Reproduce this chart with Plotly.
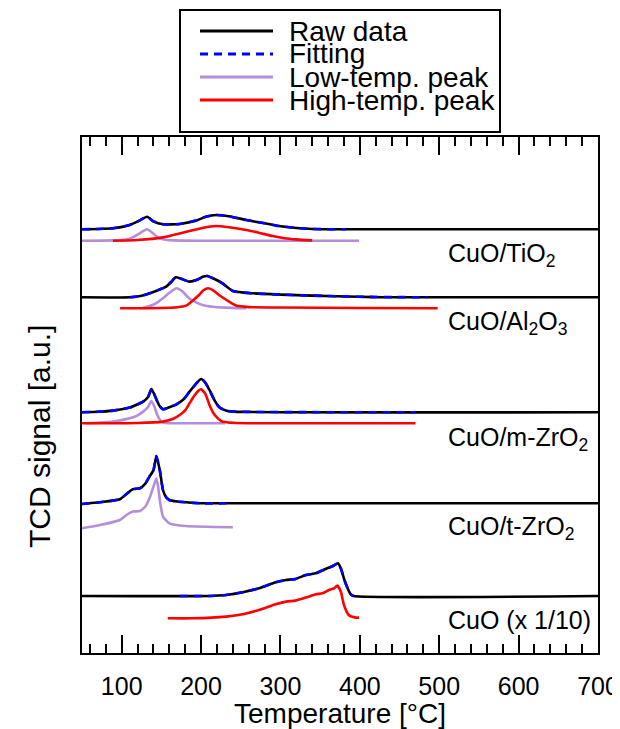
import plotly.graph_objects as go

# ---------------- data (temperature in °C, signal in a.u. above each baseline) ----------------
samples = ["CuO/TiO2", "CuO/Al2O3", "CuO/m-ZrO2", "CuO/t-ZrO2", "CuO"]

# CuO/TiO2
tio2_raw_T = [50, 70, 89, 110, 123, 132, 140, 152, 173, 194, 206, 219, 235, 257, 280, 298, 320, 340, 380, 700]
tio2_raw_y = [0, 0.3, 1, 4.3, 9, 12.6, 8, 5, 5.3, 8.7, 12.5, 14.3, 13, 9.3, 6, 3.3, 1.3, 0.3, 0, 0]
tio2_fit_T = [50, 70, 89, 110, 123, 132, 140, 152, 173, 194, 206, 219, 235, 257, 280, 298, 320, 340, 382]
tio2_fit_y = [0, 0.3, 1, 4.3, 9, 12.6, 8, 5, 5.3, 8.7, 12.5, 14.3, 13, 9.3, 6, 3.3, 1.3, 0.3, 0]
tio2_low_T = [50, 90, 105, 114, 122, 128, 132, 137, 143, 148, 155, 165, 200, 300, 399]
tio2_low_y = [0, 0.3, 1.2, 3.3, 7, 10, 11.4, 9, 5, 2.3, 1, 0.3, 0, 0, 0]
tio2_high_T = [89, 120, 152, 173, 195, 210, 219, 235, 257, 275, 290, 305, 320, 340]
tio2_high_y = [0, 0.7, 3.3, 7.3, 11.5, 14, 14.7, 13.5, 10.7, 7.5, 4.7, 2.5, 1.3, 0.3]

# CuO/Al2O3
al_raw_T = [50, 110, 125, 139, 150, 156, 162, 168, 175, 185, 195, 202, 208, 215, 227, 240, 265, 300, 340, 400, 430, 700]
al_raw_y = [0, 0, 1.5, 5, 8.5, 10.7, 15, 20, 18.5, 15.7, 17.5, 20.5, 21.3, 19, 14, 6.3, 4, 2.7, 1.7, 0.5, 0, 0]
al_fit_T = [110, 125, 139, 150, 156, 162, 168, 175, 185, 195, 202, 208, 215, 227, 240, 265, 300, 340, 400, 485]
al_fit_y = [0, 1.5, 5, 8.5, 10.7, 15, 20, 18.5, 15.7, 17.5, 20.5, 21.3, 19, 14, 6.3, 4, 2.7, 1.7, 0.5, 0]
al_low_T = [127, 139, 145, 152, 160, 169, 177, 185, 195, 202, 215, 230, 257]
al_low_y = [0.5, 3.3, 6, 10, 15.5, 20, 16.5, 10, 5.5, 3.3, 1.5, 0.7, 0]
al_high_T = [98, 150, 170, 177, 183, 189, 197, 203, 209, 216, 224, 232, 244, 260, 300, 400, 498]
al_high_y = [0, 0.3, 1, 1.7, 3.5, 7.3, 13, 18, 20, 17.5, 12.5, 8.3, 2.7, 1.2, 0.8, 0.3, 0]

# CuO/m-ZrO2
mz_raw_T = [50, 70, 89, 110, 127, 133, 137.5, 141, 144, 148, 152, 160, 169, 178, 185.5, 193, 200, 205, 210.6, 217, 223, 232, 240, 700]
mz_raw_y = [0, 0.5, 1.7, 4.7, 10.7, 15, 23.3, 18, 12.3, 6, 3, 5, 8, 13, 20.7, 28, 33.3, 30, 22.3, 12, 5, 1.5, 0.7, 0]
mz_fit_T = [50, 70, 89, 110, 127, 133, 137.5, 141, 144, 148, 152, 160, 169, 178, 185.5, 193, 200, 205, 210.6, 217, 223, 232, 240, 470]
mz_fit_y = [0, 0.5, 1.7, 4.7, 10.7, 15, 23.3, 18, 12.3, 6, 3, 5, 8, 13, 20.7, 28, 33.3, 30, 22.3, 12, 5, 1.5, 0.7, 0]
mz_low_T = [55, 89, 110, 120, 127, 133, 137.5, 141, 144, 147, 150, 155, 170, 230]
mz_low_y = [0, 1.7, 5, 8, 11.7, 16, 22.3, 17, 10, 5, 1.7, 0.3, 0, 0]
mz_high_T = [50, 120, 152, 165, 173, 180, 185.5, 191, 196, 200, 205, 210.6, 215, 219, 225, 232, 245, 300, 470]
mz_high_y = [0, 0.3, 1.7, 4.5, 8.3, 13, 20, 27, 32, 34, 30, 18.3, 11, 6.7, 2.5, 1, 0.3, 0, 0]

# CuO/t-ZrO2
tz_raw_T = [50, 72.6, 97.7, 106, 114, 123, 130, 135, 140, 143.7, 148, 152, 156, 160, 170, 181, 200, 700]
tz_raw_y = [-0.7, 1, 4, 9.3, 14, 15, 20, 26.7, 33, 47.3, 33, 13.3, 6, 3.3, 1.8, 1, 0, 0]
tz_fit_T = [50, 72.6, 97.7, 106, 114, 123, 130, 135, 140, 143.7, 148, 152, 156, 160, 170, 181, 200, 232]
tz_fit_y = [-0.7, 1, 4, 9.3, 14, 15, 20, 26.7, 33, 47.3, 33, 13.3, 6, 3.3, 1.8, 1, 0, 0]
tz_low_T = [50, 72.6, 97.7, 106, 114, 123, 130, 135, 140, 143.7, 146, 148, 152, 160, 181, 240]
tz_low_y = [-1, 2.3, 7.3, 12.3, 15.7, 16.3, 21, 29, 40.7, 49, 40, 27.3, 10.7, 4, 1.3, 0]

# CuO (x 1/10)
cuo_raw_T = [50, 210, 231.6, 252.4, 273, 294, 307, 319, 332, 344.5, 357, 366, 372.5, 376, 382, 388.5, 392, 700]
cuo_raw_y = [0, 0, 1, 3.7, 7.7, 13.7, 16, 17, 21, 22.7, 27, 30, 32.7, 27.7, 12.7, 1.7, 0, 0]
cuo_fit_T = [173, 210, 231.6, 252.4, 273, 294, 307, 319, 332, 344.5, 357, 366, 372.5, 376, 382, 388.5, 392]
cuo_fit_y = [0, 0, 1, 3.7, 7.7, 13.7, 16, 17, 21, 22.7, 27, 30, 32.7, 27.7, 12.7, 1.7, 0]
cuo_high_T = [158, 189, 231.6, 252.4, 273, 294, 307, 319, 332, 344.5, 353, 361, 367.5, 371.6, 376, 380, 386, 394.7, 399]
cuo_high_y = [0, 0, 1.7, 4, 8.3, 14, 16.7, 17.7, 20.7, 24, 25, 28.3, 30, 32.7, 26.7, 13.3, 3.3, 0.7, 0.7]

x_ticks = [100, 200, 300, 400, 500, 600, 700]
legend_names = ["Raw data", "Fitting", "Low-temp. peak", "High-temp. peak"]
label_texts = ["CuO/TiO<sub>2</sub>", "CuO/Al<sub>2</sub>O<sub>3</sub>", "CuO/m-ZrO<sub>2</sub>",
               "CuO/t-ZrO<sub>2</sub>", "CuO (x 1/10)"]
y_title = "TCD signal [a.u.]"

# ---------------- layout / style (vertical offsets of the stacked curves) ----------------
RAW_OFF = [423.7, 355.7, 240.7, 149.7, 57.0]
COMP_OFF = [412.3, 344.7, 229.7, 125.7, 34.7]
LABEL_Y = [398, 330, 214, 125, 33]

BLACK, BLUE, PURPLE, RED = "#000000", "#0000ff", "#b48edc", "#ff0000"
FONT = "Arial, Liberation Sans, sans-serif"
PAGE = 8                      # default body margin of the html page
W, H = 620 - PAGE, 729 - PAGE
L, T = 82 - PAGE, 137 - PAGE
R = W - L - 516
B = H - T - 516
PW, PH = W - L - R, H - T - B
DASH = "8px,6px"

sets = [
    (tio2_raw_T, tio2_raw_y, tio2_fit_T, tio2_fit_y, tio2_low_T, tio2_low_y, tio2_high_T, tio2_high_y),
    (al_raw_T, al_raw_y, al_fit_T, al_fit_y, al_low_T, al_low_y, al_high_T, al_high_y),
    (mz_raw_T, mz_raw_y, mz_fit_T, mz_fit_y, mz_low_T, mz_low_y, mz_high_T, mz_high_y),
    (tz_raw_T, tz_raw_y, tz_fit_T, tz_fit_y, tz_low_T, tz_low_y, None, None),
    (cuo_raw_T, cuo_raw_y, cuo_fit_T, cuo_fit_y, None, None, cuo_high_T, cuo_high_y),
]

fig = go.Figure()
for i, (rT, ry, fT, fy, lT, ly, hT, hy) in enumerate(sets):
    ro, co = RAW_OFF[i], COMP_OFF[i]
    if lT is not None:
        fig.add_trace(go.Scatter(x=lT, y=[v + co for v in ly], mode="lines",
                                 line=dict(color=PURPLE, width=2.6, shape="spline", smoothing=0.5),
                                 name=legend_names[2], showlegend=False))
    if hT is not None:
        fig.add_trace(go.Scatter(x=hT, y=[v + co for v in hy], mode="lines",
                                 line=dict(color=RED, width=2.6, shape="spline", smoothing=0.5),
                                 name=legend_names[3], showlegend=False))
    fig.add_trace(go.Scatter(x=rT, y=[v + ro for v in ry], mode="lines",
                             line=dict(color=BLACK, width=2.6, shape="spline", smoothing=0.5),
                             name=legend_names[0], showlegend=False))
    fig.add_trace(go.Scatter(x=fT, y=[v + ro for v in fy], mode="lines",
                             line=dict(color=BLUE, width=2.6, dash=DASH, shape="spline", smoothing=0.5),
                             name=legend_names[1], showlegend=False))

for i, txt in enumerate(label_texts):
    fig.add_annotation(x=508, y=LABEL_Y[i], text=txt, showarrow=False, xanchor="left",
                       yanchor="middle", font=dict(size=25, color="black", family=FONT))


# ---------------- hand-drawn legend box (positions given in window pixels) ----------------
def px2paper(px, py):
    return (px - PAGE - L) / PW, (H - B - (py - PAGE)) / PH


x0, y0 = px2paper(180, 10)
x1, y1 = px2paper(500, 132)
fig.add_shape(type="rect", xref="paper", yref="paper", x0=x0, y0=y1, x1=x1, y1=y0,
              line=dict(color="black", width=2), fillcolor="white")
leg_styles = [(BLACK, "solid"), (BLUE, DASH), (PURPLE, "solid"), (RED, "solid")]
leg_y = [31, 54, 77, 100]
for name, (col, dash), ly_ in zip(legend_names, leg_styles, leg_y):
    a0, b0 = px2paper(200, ly_)
    a1, _ = px2paper(273, ly_)
    fig.add_shape(type="line", xref="paper", yref="paper", x0=a0, y0=b0, x1=a1, y1=b0,
                  line=dict(color=col, width=3, dash=dash))
    tx, _ = px2paper(287, ly_)
    fig.add_annotation(xref="paper", yref="paper", x=tx, y=b0, text=name, showarrow=False,
                       xanchor="left", yanchor="middle", font=dict(size=28, color="black", family=FONT))

# y-axis title (placed slightly below the axis centre, as in the reference)
ytx, yty = px2paper(40, 437)
fig.add_annotation(xref="paper", yref="paper", x=ytx, y=yty, text=y_title, showarrow=False,
                   textangle=-90, xanchor="center", yanchor="middle",
                   font=dict(size=30, color="black", family=FONT))

fig.update_layout(
    width=W, height=H, margin=dict(l=L, r=R, t=T, b=B, autoexpand=False),
    paper_bgcolor="white", plot_bgcolor="white", showlegend=False,
    font=dict(family=FONT, color="black"),
)
fig.update_xaxes(range=[50, 700], tickvals=x_ticks, ticks="inside", ticklen=18, tickwidth=1.5,
                 tickcolor="black", showline=True, linecolor="black", linewidth=1.5, mirror="ticks",
                 showgrid=False, zeroline=False, tickfont=dict(size=25), automargin=False,
                 ticklabelstandoff=10,
                 minor=dict(ticks="inside", ticklen=9, tickwidth=1.5, tickcolor="black", dtick=20, tick0=0,
                            showgrid=False),
                 title=dict(text="Temperature [°C]", font=dict(size=28), standoff=4))
fig.update_yaxes(range=[0, PH], showticklabels=False, ticks="", showline=True, linecolor="black",
                 linewidth=1.5, mirror=True, showgrid=False, zeroline=False, automargin=False)

fig.write_html("out.html")
